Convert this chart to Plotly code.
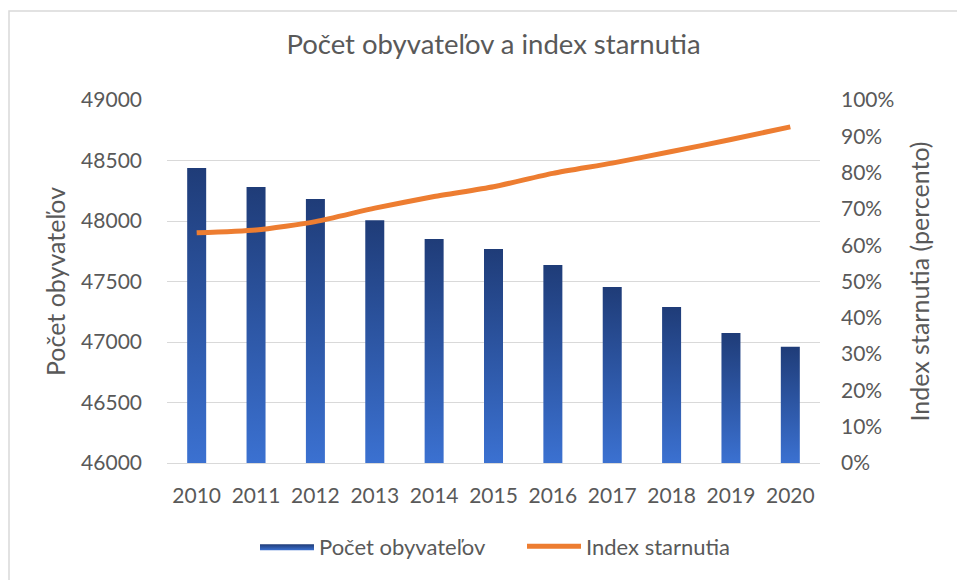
import plotly.graph_objects as go

years = [2010, 2011, 2012, 2013, 2014, 2015, 2016, 2017, 2018, 2019, 2020]
population = [48437, 48280, 48181, 48007, 47851, 47768, 47636, 47455, 47290, 47075, 46960]
aging_index = [63.4, 64.2, 66.5, 70.2, 73.4, 76.1, 79.8, 82.6, 85.8, 89.1, 92.6]

left_ticks = [46000, 46500, 47000, 47500, 48000, 48500, 49000]
left_labels = [str(v) for v in left_ticks]
right_ticks = [0, 10, 20, 30, 40, 50, 60, 70, 80, 90, 100]
right_labels = [f"{v}%" for v in right_ticks]

title_text = "Počet obyvateľov a index starnutia"
bar_name = "Počet obyvateľov"
line_name = "Index starnutia"
y1_title = "Počet obyvateľov"
y2_title = "Index starnutia (percento)"

FONT = "Lato"
GREY = "#595959"
BAR_W = 0.32
BASE = 46000
grad = [[0, "#3b71d1"], [1, "#1f3c78"]]

fig = go.Figure()

# bars drawn as gradient-filled shapes from the data
for i, (yr, v) in enumerate(zip(years, population)):
    xs = [yr - BAR_W / 2, yr + BAR_W / 2, yr + BAR_W / 2, yr - BAR_W / 2, yr - BAR_W / 2]
    ys = [BASE, BASE, v, v, BASE]
    fig.add_trace(go.Scatter(
        x=xs, y=ys, mode="lines", fill="toself",
        line=dict(width=0, color="#2a53a3"),
        fillgradient=dict(type="vertical", colorscale=grad),
        name=bar_name, legendgroup="bars", showlegend=(i == 0),
        hoverinfo="skip", yaxis="y",
    ))

fig.add_trace(go.Scatter(
    x=years, y=aging_index, mode="lines", name=line_name,
    line=dict(color="#ed7d31", width=5, shape="spline", smoothing=0.6),
    yaxis="y2",
))

fig.update_layout(
    width=957, height=580,
    margin=dict(l=167, r=137, t=100, b=117),
    paper_bgcolor="white", plot_bgcolor="white",
    font=dict(family=FONT, color=GREY, size=21),
    title=dict(text=title_text, x=0.5, xref="paper", xanchor="center",
               y=1 - 44 / 580, yref="container", yanchor="middle",
               font=dict(size=27.5, color=GREY, family=FONT)),
    xaxis=dict(range=[2009.5, 2020.5], tickvals=years, ticktext=[str(y) for y in years],
               showgrid=False, zeroline=False, showline=True, linecolor="#d9d9d9",
               linewidth=1, ticks="", tickfont=dict(size=21), ticklabelstandoff=14),
    yaxis=dict(range=[46000, 49000], tickvals=left_ticks, ticktext=left_labels,
               showgrid=True, gridcolor="#d9d9d9", gridwidth=1, zeroline=False,
               ticks="", tickfont=dict(size=21), ticklabelstandoff=24,
               title=dict(text=y1_title, font=dict(size=25), standoff=8)),
    yaxis2=dict(range=[0, 100], tickvals=right_ticks, ticktext=right_labels,
                overlaying="y", side="right", showgrid=False, zeroline=False,
                ticks="", tickfont=dict(size=21), ticklabelstandoff=20,
                title=dict(text=y2_title, font=dict(size=25), standoff=18)),
    legend=dict(orientation="h", x=(255 - 167) / 653, xanchor="left", y=-0.23,
                yanchor="middle", font=dict(size=22), itemwidth=54,
                traceorder="normal", entrywidth=198),
    showlegend=True,
    shapes=[dict(type="rect", xref="paper", yref="paper",
                 x0=(9 - 167) / 653, x1=(970 - 167) / 653,
                 y0=(463 - 600) / 363, y1=(463 - 11) / 363,
                 line=dict(color="#d9d9d9", width=1.5), fillcolor="rgba(0,0,0,0)",
                 layer="below")],
)

fig.write_html("out.html", config={"displayModeBar": False},
               post_script="document.body.style.margin='0';")
